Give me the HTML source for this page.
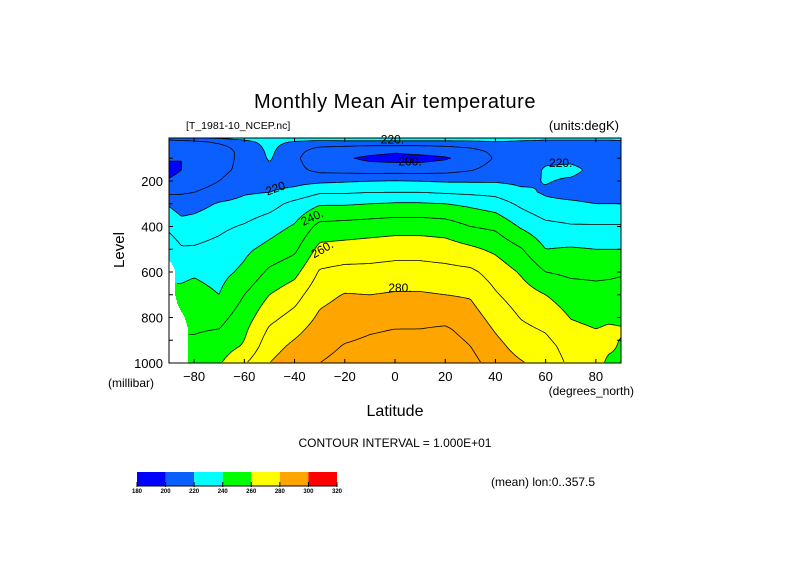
<!DOCTYPE html>
<html><head><meta charset="utf-8"><style>
body{margin:0;background:#fff;}
svg text{font-family:"Liberation Sans",sans-serif;fill:#000;}
</style></head><body>
<svg id="chart" width="789" height="558" viewBox="0 0 789 558" xmlns="http://www.w3.org/2000/svg">
<rect x="0" y="0" width="789" height="558" fill="#fff"/>
<text x="395" y="108" font-size="20" text-anchor="middle" letter-spacing="0.5">Monthly Mean Air temperature</text>
<text x="186" y="129" font-size="10.5">[T_1981-10_NCEP.nc]</text>
<text x="619" y="130" font-size="13" text-anchor="end">(units:degK)</text>
<g id="fill"></g>
<g id="lines"></g>
<g id="clabels"></g>
<rect x="169" y="138" width="452" height="225" fill="none" stroke="#000" stroke-width="1"/>
<g id="axes"></g>
<text x="124" y="250" font-size="15" text-anchor="middle" transform="rotate(-90 124 250)">Level</text>
<text x="108" y="387" font-size="12">(millibar)</text>
<text x="634" y="395" font-size="12" text-anchor="end">(degrees_north)</text>
<text x="395" y="416" font-size="16" text-anchor="middle">Latitude</text>
<text x="395" y="447" font-size="12" text-anchor="middle">CONTOUR INTERVAL = 1.000E+01</text>
<text x="491" y="486" font-size="12">(mean) lon:0..357.5</text>
<g id="cbar"></g>
</svg>
<script>
const lats=[-90,-85,-80,-70,-60,-50,-40,-30,-20,-10,0,10,20,30,40,50,60,70,80,85,90];
const levels=[10,20,30,50,70,100,150,200,250,300,400,500,600,700,850,925,1000];
const N=NaN;
// temperature (K) per latitude column, values at each level
const temps=[
[219,210,205,201,200,201,197,201,208,219,228,236,N,N,N,N,N],
[219,211,206,202,201,200,200,203,209,215,224,231,238,242,N,N,N],
[220,212,207,204,203,203,203,205,210,216,225,231,239,243,249,252,254],
[222,215,211,208,207,207,208,210,214,221,228,233,237,240,250,255,259],
[226,220,216,213,212,212,212,214,219,223,231,238,242,250,258,261,269],
[230,226,224,223,222,221,218,217,220,226,236,243,252,260,271,276,280],
[228,223,218,214,213,212,213,217,223,233,241,248,257,266,277,282,286],
[226,221,216,210,206,203,207,218,229,239,253,263,271,277,284,287,290],
[228,222,216,209,205,201,206,219,229,239,254,264,273,280.5,287,290.5,293],
[228,222,216,208,203,198,205,220,230,240,255,265,273,280,289,292,296],
[228,222,216,208,201,197,205,220.5,230,241,256,266,274,281,290,293,297],
[228,222,216,208,203,197,205,220,230,241,256,266,274,281,290,294,297],
[228,222,216,209,204,199,206,219,229,240,255,265,273,280,291,294,297],
[228,222,217,211,207,203,209,219,228,238,250,262,272,279,287,290,293],
[228,223,219,214,212,211,214,219,227,235,248,258,266,271,279,283,286],
[226,221,218,215,214,214,215,218,222,228,239,251,259,265,272,276,281],
[225,220,218,217,217,218,221,220.5,219,222,233,240,250,260,269,273,276],
[224,220,218,217,217,218,222,219,217,221.5,231,241,248,255,262,266,268],
[223,220,218,217,216,216,218,217,216,220,231,240,248,253,260,262,262],
[223,220,218,216,215,215,217,216,216,220,231,240,248,254,261,261,259],
[223,220.5,218,216,215,215,216,215,216,220,231,240,249,254,260.5,259.5,259]
];
const contourLevels=[200,210,220,230,240,250,260,270,280,290];
const bandEdges=[180,200,220,240,260,280,300,320];
const bandColors=['#0000ff','#0b5fff','#00ffff','#00ff00','#ffff00','#ffa500','#ff0000'];
const xTicks=[-80,-60,-40,-20,0,20,40,60,80];
const yTicks=[200,400,600,800,1000];
const labelList=[[220,-1,17,0],[200,6,115,0],[220,66,120,0],[220,-47,230,-20],[240,-33,360,-25],[260,-29,500,-30],[280,2,670,0]];

const SVGNS='http://www.w3.org/2000/svg';
const X0=169,X1=621,Y0=138,Y1=363;
function xOf(lat){return X0+(lat+90)/180*(X1-X0);}
function latOf(x){return -90+(x-X0)/(X1-X0)*180;}
function yOf(p){return 135.5+p*0.2275;}
function pOf(y){return (y-135.5)/0.2275;}
function seg(arr,v){let i=0;while(i<arr.length-2&&v>arr[i+1])i++;return i;}
function T(lat,p){
  p=Math.max(levels[0],Math.min(1000,p));
  lat=Math.max(-90,Math.min(90,lat));
  const i=seg(lats,lat),j=seg(levels,p);
  const a=(lat-lats[i])/(lats[i+1]-lats[i]),b=(p-levels[j])/(levels[j+1]-levels[j]);
  const c=[[temps[i][j],(1-a)*(1-b)],[temps[i+1][j],a*(1-b)],[temps[i][j+1],(1-a)*b],[temps[i+1][j+1],a*b]];
  let s=0,w=0,nw=0;
  for(const [v,wt] of c){if(isNaN(v))nw+=wt;else{s+=v*wt;w+=wt;}}
  if(nw>0.5||w===0)return NaN;
  return s/w;
}
function colorOf(t){for(let k=0;k<bandColors.length;k++){if(t<bandEdges[k+1])return bandColors[k];}return bandColors[bandColors.length-1];}
function mk(tag,attrs,parent){const e=document.createElementNS(SVGNS,tag);for(const k in attrs)e.setAttribute(k,attrs[k]);parent.appendChild(e);return e;}

// fill
const fillG=document.getElementById('fill');
for(let y=Y0;y<Y1;y++){
  const p=pOf(y+0.5);
  let runStart=X0,runCol=null;
  for(let x=X0;x<=X1;x++){
    const col=x<X1?(()=>{const t=T(latOf(x+0.5),p);return isNaN(t)?'#ffffff':colorOf(t);})():'END';
    if(col!==runCol){
      if(runCol!==null&&runCol!=='#ffffff'){
        const r=mk('rect',{x:runStart,y:y,width:x-runStart,height:1.05,fill:runCol},fillG);
        
        
      }
      runStart=x;runCol=col;
    }
  }
}
// contours via marching squares
const S=2;
const gx=[],gy=[];for(let x=X0;x<=X1;x+=S)gx.push(x);for(let y=Y0;y<=Y1;y+=S)gy.push(y);
const G=gy.map(y=>gx.map(x=>T(latOf(x),pOf(y))));
const linesG=document.getElementById('lines');
contourLevels.forEach(L=>{
  let d='';
  for(let r=0;r<gy.length-1;r++)for(let c=0;c<gx.length-1;c++){
    const v=[G[r][c],G[r][c+1],G[r+1][c+1],G[r+1][c]];
    if(v.some(isNaN))continue;
    const P=[[gx[c],gy[r]],[gx[c+1],gy[r]],[gx[c+1],gy[r+1]],[gx[c],gy[r+1]]];
    const pts=[];
    for(let e=0;e<4;e++){
      const a=v[e],b=v[(e+1)%4];
      if((a<L)!==(b<L)){const t=(L-a)/(b-a);const A=P[e],B=P[(e+1)%4];pts.push([A[0]+t*(B[0]-A[0]),A[1]+t*(B[1]-A[1])]);}
    }
    for(let k=0;k+1<pts.length;k+=2)d+='M'+pts[k][0].toFixed(1)+' '+pts[k][1].toFixed(1)+'L'+pts[k+1][0].toFixed(1)+' '+pts[k+1][1].toFixed(1);
  }
  const pth=mk('path',{d:d,stroke:'#000','stroke-width':0.8,fill:'none'},linesG);
  
  
});
// contour labels
const clG=document.getElementById('clabels');
labelList.forEach(([v,lat,p,rot])=>{
  const x=xOf(lat),y=yOf(p)+4;
  const t=mk('text',{x:x,y:y,'font-size':12,'text-anchor':'middle',transform:'rotate('+rot+' '+x+' '+(y-4)+')'},clG);
  t.textContent=v+'.';
  
  
});
// axes
const axG=document.getElementById('axes');
xTicks.forEach(v=>{
  const x=xOf(v);
  const l=mk('line',{x1:x,x2:x,y1:Y1,y2:Y1-4,stroke:'#000'},axG);
  
  
  const l2=mk('line',{x1:x,x2:x,y1:Y0,y2:Y0+4,stroke:'#000'},axG);
  
  
  const t=mk('text',{x:x,y:381,'font-size':13,'text-anchor':'middle'},axG);
  t.textContent=v<0?'\u2212'+(-v):String(v);
  
  
});
for(let p=100;p<=1000;p+=100){
  const y=yOf(p);
  const l=mk('line',{x1:X0,x2:X0+4,y1:y,y2:y,stroke:'#000'},axG);
  
  
  const l2=mk('line',{x1:X1,x2:X1-4,y1:y,y2:y,stroke:'#000'},axG);
  
  
}
yTicks.forEach(v=>{
  const t=mk('text',{x:163,y:yOf(v)+5,'font-size':13,'text-anchor':'end'},axG);
  t.textContent=String(v);
  
  
});
// colorbar
const cb=document.getElementById('cbar');
const cbX0=137,cbX1=337,bw=(cbX1-cbX0)/bandColors.length;
bandColors.forEach((c,k)=>{
  const r=mk('rect',{x:cbX0+k*bw,y:472,width:bw,height:14,fill:c},cb);
  
  
});
const bl=mk('line',{x1:cbX0,x2:cbX1,y1:486,y2:486,stroke:'#000'},cb);


bandEdges.forEach((v,k)=>{
  const x=cbX0+k*bw;
  const l=mk('line',{x1:x,x2:x,y1:482,y2:487,stroke:'#000'},cb);
  
  
  const t=mk('text',{x:x,y:493,'font-size':6,'font-weight':'bold','text-anchor':'middle'},cb);
  t.textContent=String(v);
  
  
});
</script>
</body></html>
